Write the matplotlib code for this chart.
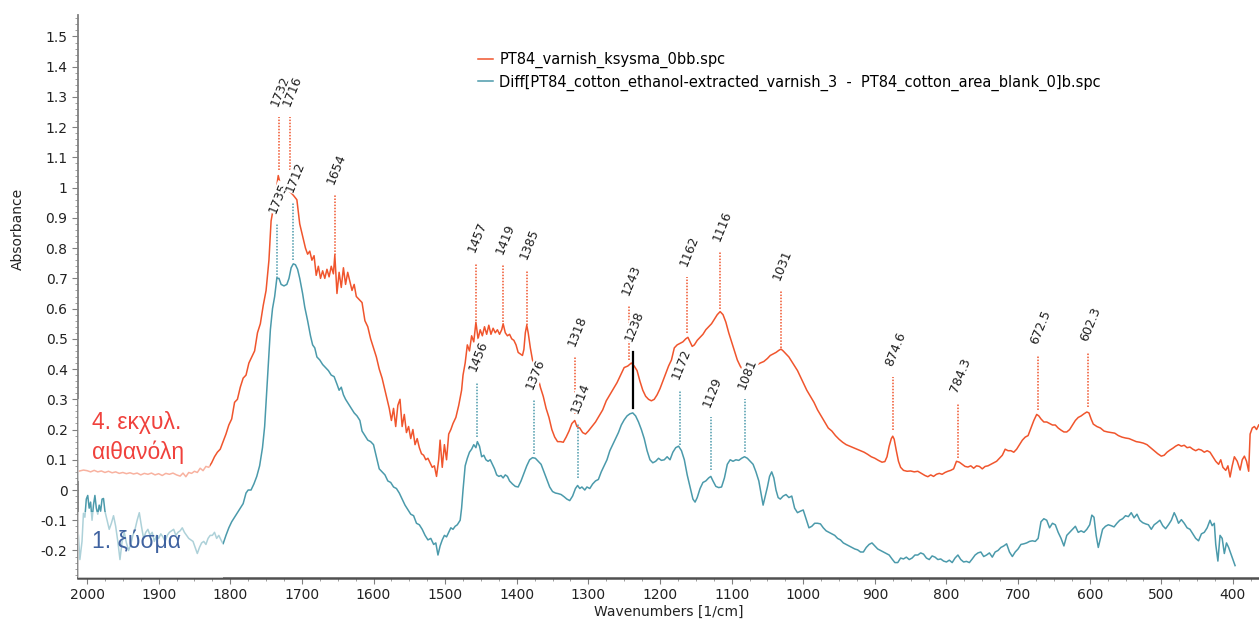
import matplotlib
matplotlib.use('Agg')
import matplotlib.pyplot as plt
from matplotlib.patches import Rectangle
from matplotlib.ticker import MultipleLocator, FuncFormatter

# ---- spectrum 1: PT84_varnish_ksysma_0bb.spc (orange) ----
varnish_wn = [2012, 2005, 2000, 1995, 1990, 1985, 1980, 1975, 1970, 1965, 1960, 1955, 1950, 1945, 1940,
              1935, 1930, 1925, 1920, 1915, 1910, 1905, 1900, 1895, 1890, 1885, 1880, 1875, 1870, 1866,
              1862, 1858, 1854, 1850, 1846, 1842, 1838, 1834, 1830, 1826, 1822, 1818, 1814, 1810, 1806,
              1802, 1798, 1794, 1790, 1786, 1782, 1778, 1774, 1770, 1766, 1762, 1758, 1754, 1750, 1746,
              1743, 1740, 1736, 1733, 1730, 1727, 1724, 1720, 1716, 1712, 1707, 1703, 1699, 1695, 1692,
              1689, 1686, 1683, 1680, 1677, 1674, 1671, 1668, 1665, 1662, 1659, 1656, 1654, 1651, 1648,
              1645, 1642, 1639, 1636, 1633, 1630, 1627, 1624, 1620, 1616, 1612, 1608, 1604, 1600, 1596,
              1592, 1588, 1584, 1581, 1578, 1575, 1572, 1569, 1566, 1563, 1560, 1557, 1554, 1551, 1548,
              1545, 1542, 1539, 1536, 1533, 1530, 1527, 1524, 1521, 1518, 1515, 1512, 1509, 1507, 1504,
              1501, 1498, 1495, 1492, 1489, 1485, 1481, 1477, 1475, 1472, 1469, 1466, 1463, 1460, 1457,
              1454, 1451, 1448, 1445, 1442, 1439, 1436, 1433, 1430, 1427, 1424, 1421, 1419, 1416, 1413,
              1410, 1407, 1404, 1401, 1398, 1395, 1392, 1390, 1388, 1386, 1384, 1381, 1378, 1375, 1371,
              1367, 1363, 1359, 1355, 1351, 1347, 1343, 1339, 1335, 1331, 1327, 1323, 1319, 1316, 1312,
              1308, 1304, 1300, 1295, 1290, 1285, 1280, 1275, 1270, 1265, 1260, 1255, 1250, 1245, 1240,
              1236, 1232, 1228, 1224, 1220, 1216, 1212, 1208, 1204, 1200, 1196, 1192, 1188, 1184, 1180,
              1176, 1172, 1168, 1164, 1161, 1158, 1155, 1152, 1148, 1144, 1140, 1136, 1132, 1128, 1124,
              1120, 1116, 1112, 1108, 1104, 1100, 1096, 1092, 1088, 1084, 1080, 1076, 1072, 1068, 1064,
              1060, 1055, 1050, 1046, 1042, 1038, 1034, 1031, 1028, 1024, 1020, 1016, 1012, 1008, 1004,
              1000, 995, 990, 985, 980, 975, 970, 965, 960, 955, 950, 945, 940, 935, 930,
              925, 920, 915, 910, 905, 900, 895, 890, 886, 883, 880, 877, 875, 873, 870,
              867, 864, 860, 855, 850, 845, 840, 835, 830, 826, 822, 818, 814, 810, 806,
              802, 798, 794, 790, 786, 782, 778, 774, 770, 766, 762, 758, 754, 750, 746,
              742, 738, 734, 730, 726, 722, 718, 714, 710, 706, 702, 698, 694, 690, 686,
              682, 678, 674, 671, 668, 664, 660, 656, 652, 648, 644, 640, 636, 632, 628,
              624, 620, 616, 612, 608, 604, 601, 598, 595, 590, 585, 580, 575, 570, 565,
              560, 555, 550, 545, 540, 535, 530, 525, 520, 515, 510, 505, 500, 496, 492,
              488, 484, 480, 476, 472, 468, 464, 460, 456, 452, 448, 444, 440, 436, 432,
              428, 424, 420, 417, 414, 410, 407, 404, 401, 398, 394, 390, 387, 384, 381,
              378, 376, 373, 370, 367, 364]
varnish_abs = [0.062, 0.066, 0.064, 0.060, 0.065, 0.060, 0.063, 0.058, 0.062, 0.057, 0.060, 0.055, 0.058, 0.054, 0.057,
               0.053, 0.056, 0.050, 0.055, 0.052, 0.056, 0.050, 0.054, 0.048, 0.055, 0.052, 0.056, 0.050, 0.046, 0.056,
               0.044, 0.058, 0.055, 0.062, 0.058, 0.072, 0.064, 0.078, 0.075, 0.090, 0.110, 0.125, 0.135, 0.160, 0.185,
               0.215, 0.235, 0.290, 0.300, 0.340, 0.370, 0.380, 0.420, 0.440, 0.460, 0.520, 0.550, 0.610, 0.660, 0.760,
               0.890, 0.930, 0.990, 1.040, 1.010, 0.990, 1.000, 0.990, 0.985, 0.975, 0.960, 0.880, 0.840, 0.800, 0.780,
               0.790, 0.760, 0.775, 0.710, 0.740, 0.700, 0.725, 0.700, 0.730, 0.705, 0.740, 0.715, 0.777, 0.650, 0.720,
               0.670, 0.735, 0.680, 0.720, 0.690, 0.660, 0.680, 0.640, 0.630, 0.620, 0.560, 0.540, 0.500, 0.470, 0.440,
               0.400, 0.370, 0.330, 0.300, 0.270, 0.230, 0.270, 0.210, 0.280, 0.300, 0.210, 0.250, 0.190, 0.210, 0.170,
               0.200, 0.150, 0.170, 0.140, 0.120, 0.115, 0.100, 0.105, 0.090, 0.075, 0.080, 0.045, 0.100, 0.165, 0.075,
               0.150, 0.100, 0.185, 0.200, 0.220, 0.240, 0.280, 0.330, 0.380, 0.420, 0.480, 0.460, 0.510, 0.490, 0.555,
               0.500, 0.530, 0.510, 0.540, 0.515, 0.545, 0.515, 0.535, 0.520, 0.530, 0.515, 0.530, 0.550, 0.520, 0.510,
               0.515, 0.500, 0.495, 0.480, 0.455, 0.450, 0.445, 0.465, 0.520, 0.545, 0.520, 0.470, 0.430, 0.415, 0.380,
               0.340, 0.310, 0.270, 0.240, 0.200, 0.175, 0.160, 0.160, 0.158, 0.175, 0.195, 0.220, 0.230, 0.210, 0.205,
               0.190, 0.185, 0.195, 0.210, 0.225, 0.245, 0.265, 0.295, 0.315, 0.335, 0.355, 0.380, 0.405, 0.410, 0.420,
               0.410, 0.395, 0.360, 0.330, 0.310, 0.300, 0.295, 0.300, 0.315, 0.335, 0.360, 0.385, 0.410, 0.430, 0.470,
               0.480, 0.485, 0.490, 0.500, 0.505, 0.490, 0.475, 0.480, 0.495, 0.505, 0.515, 0.530, 0.540, 0.550, 0.565,
               0.580, 0.590, 0.580, 0.555, 0.520, 0.490, 0.460, 0.430, 0.410, 0.395, 0.390, 0.395, 0.400, 0.410, 0.415,
               0.420, 0.425, 0.435, 0.445, 0.450, 0.455, 0.462, 0.466, 0.460, 0.450, 0.440, 0.425, 0.410, 0.395, 0.375,
               0.355, 0.330, 0.310, 0.290, 0.265, 0.245, 0.225, 0.205, 0.195, 0.180, 0.168, 0.158, 0.150, 0.145, 0.140,
               0.135, 0.130, 0.125, 0.118, 0.110, 0.105, 0.098, 0.092, 0.094, 0.110, 0.145, 0.170, 0.178, 0.168, 0.130,
               0.095, 0.075, 0.065, 0.062, 0.063, 0.060, 0.062, 0.055, 0.048, 0.044, 0.050, 0.045, 0.052, 0.055, 0.052,
               0.058, 0.062, 0.065, 0.070, 0.095, 0.092, 0.085, 0.078, 0.076, 0.080, 0.072, 0.080, 0.078, 0.070, 0.078,
               0.080, 0.085, 0.090, 0.095, 0.105, 0.115, 0.135, 0.130, 0.130, 0.125, 0.135, 0.150, 0.165, 0.175, 0.180,
               0.205, 0.230, 0.250, 0.245, 0.235, 0.225, 0.225, 0.220, 0.215, 0.215, 0.205, 0.198, 0.192, 0.192, 0.200,
               0.215, 0.230, 0.240, 0.245, 0.252, 0.258, 0.255, 0.235, 0.218, 0.210, 0.205, 0.195, 0.192, 0.190, 0.188,
               0.180, 0.175, 0.172, 0.170, 0.165, 0.160, 0.158, 0.155, 0.150, 0.140, 0.130, 0.120, 0.112, 0.115, 0.125,
               0.132, 0.138, 0.145, 0.150, 0.145, 0.148, 0.140, 0.142, 0.135, 0.130, 0.135, 0.132, 0.125, 0.130, 0.125,
               0.110, 0.095, 0.085, 0.100, 0.075, 0.065, 0.080, 0.043, 0.080, 0.110, 0.095, 0.066, 0.100, 0.112, 0.095,
               0.062, 0.185, 0.205, 0.210, 0.200, 0.215]

# ---- spectrum 2: difference spectrum (blue) ----
diff_wn = [2012, 2010, 2007, 2005, 2003, 2001, 1999, 1997, 1995, 1993, 1991, 1989, 1987, 1985, 1983,
           1981, 1979, 1977, 1975, 1972, 1969, 1966, 1963, 1960, 1957, 1954, 1951, 1948, 1945, 1942,
           1939, 1936, 1933, 1930, 1927, 1924, 1921, 1918, 1915, 1912, 1909, 1906, 1903, 1900, 1897,
           1894, 1891, 1888, 1885, 1882, 1879, 1876, 1873, 1870, 1867, 1864, 1861, 1858, 1855, 1852,
           1849, 1846, 1843, 1840, 1837, 1834, 1831, 1828, 1825, 1822, 1819, 1816, 1813, 1810, 1806,
           1802, 1798, 1794, 1790, 1786, 1782, 1778, 1775, 1771, 1767, 1763, 1759, 1755, 1752, 1749,
           1746, 1744, 1741, 1738, 1735, 1732, 1729, 1725, 1721, 1718, 1715, 1712, 1709, 1706, 1703,
           1699, 1696, 1692, 1688, 1685, 1682, 1679, 1675, 1671, 1667, 1663, 1659, 1655, 1651, 1648,
           1645, 1642, 1639, 1635, 1631, 1627, 1623, 1619, 1616, 1612, 1608, 1604, 1600, 1596, 1592,
           1588, 1584, 1580, 1576, 1572, 1568, 1564, 1560, 1556, 1552, 1548, 1544, 1540, 1536, 1532,
           1528, 1524, 1520, 1516, 1513, 1510, 1507, 1504, 1501, 1498, 1495, 1492, 1489, 1486, 1483,
           1479, 1477, 1475, 1472, 1469, 1466, 1463, 1460, 1457, 1455, 1452, 1449, 1446, 1443, 1440,
           1437, 1434, 1431, 1428, 1425, 1422, 1419, 1416, 1413, 1410, 1406, 1402, 1398, 1394, 1390,
           1386, 1382, 1378, 1374, 1370, 1366, 1362, 1358, 1354, 1350, 1346, 1342, 1338, 1334, 1330,
           1326, 1322, 1318, 1315, 1312, 1309, 1305, 1302, 1298, 1294, 1290, 1286, 1282, 1278, 1274,
           1270, 1266, 1262, 1258, 1254, 1250, 1246, 1242, 1238, 1234, 1230, 1226, 1222, 1218, 1214,
           1210, 1206, 1202, 1198, 1194, 1190, 1186, 1182, 1178, 1174, 1170, 1166, 1162, 1158, 1154,
           1151, 1148, 1144, 1140, 1136, 1132, 1129, 1126, 1122, 1118, 1114, 1110, 1106, 1102, 1098,
           1094, 1090, 1086, 1082, 1078, 1074, 1070, 1066, 1062, 1059, 1056, 1053, 1050, 1047, 1044,
           1041, 1038, 1035, 1032, 1028, 1024, 1020, 1016, 1012, 1008, 1004, 1000, 996, 992, 988,
           984, 980, 976, 972, 968, 964, 960, 956, 952, 948, 944, 940, 936, 932, 928,
           924, 920, 916, 912, 908, 904, 900, 896, 892, 888, 884, 880, 876, 872, 868,
           864, 860, 856, 852, 848, 844, 840, 836, 832, 828, 824, 820, 816, 812, 808,
           804, 800, 796, 792, 788, 784, 780, 776, 772, 768, 764, 760, 756, 752, 748,
           744, 740, 736, 732, 728, 724, 720, 716, 712, 708, 704, 700, 696, 692, 688,
           684, 680, 676, 672, 668, 664, 660, 656, 652, 648, 644, 640, 636, 632, 628,
           624, 620, 616, 612, 608, 604, 600, 597, 594, 591, 588, 585, 582, 578, 574,
           570, 566, 562, 558, 554, 550, 546, 542, 538, 534, 530, 526, 522, 518, 514,
           510, 506, 502, 498, 494, 490, 486, 482, 479, 476, 472, 468, 464, 460, 456,
           452, 448, 444, 440, 436, 432, 429, 426, 424, 421, 418, 415, 412, 409, 406,
           403, 400, 397]
diff_abs = [-0.150, -0.230, -0.170, -0.077, -0.090, -0.030, -0.018, -0.060, -0.040, -0.100, -0.050, -0.018, -0.060, -0.080, -0.050,
            -0.070, -0.030, -0.028, -0.070, -0.100, -0.130, -0.110, -0.085, -0.120, -0.170, -0.230, -0.170, -0.140, -0.175, -0.200,
            -0.180, -0.150, -0.130, -0.100, -0.075, -0.120, -0.160, -0.140, -0.130, -0.150, -0.140, -0.170, -0.150, -0.160, -0.145,
            -0.155, -0.170, -0.150, -0.140, -0.135, -0.130, -0.150, -0.140, -0.135, -0.125, -0.140, -0.150, -0.160, -0.165, -0.170,
            -0.190, -0.210, -0.190, -0.175, -0.170, -0.180, -0.160, -0.150, -0.150, -0.140, -0.160, -0.150, -0.165, -0.178, -0.150,
            -0.125, -0.105, -0.090, -0.075, -0.060, -0.045, -0.010, 0.000, 0.000, 0.020, 0.045, 0.080, 0.140, 0.210, 0.330,
            0.450, 0.530, 0.600, 0.640, 0.700, 0.700, 0.680, 0.675, 0.680, 0.700, 0.735, 0.748, 0.745, 0.730, 0.700,
            0.650, 0.605, 0.560, 0.510, 0.480, 0.470, 0.440, 0.430, 0.415, 0.405, 0.395, 0.380, 0.375, 0.350, 0.330,
            0.340, 0.315, 0.300, 0.285, 0.270, 0.255, 0.245, 0.230, 0.195, 0.180, 0.165, 0.160, 0.150, 0.110, 0.070,
            0.060, 0.050, 0.030, 0.025, 0.010, 0.005, -0.010, -0.030, -0.050, -0.065, -0.080, -0.085, -0.110, -0.115, -0.130,
            -0.150, -0.165, -0.160, -0.180, -0.175, -0.215, -0.185, -0.165, -0.150, -0.155, -0.140, -0.125, -0.130, -0.120, -0.115,
            -0.100, -0.060, 0.000, 0.080, 0.105, 0.125, 0.135, 0.150, 0.140, 0.160, 0.145, 0.110, 0.115, 0.100, 0.095,
            0.100, 0.085, 0.070, 0.050, 0.045, 0.048, 0.040, 0.050, 0.045, 0.030, 0.020, 0.012, 0.010, 0.030, 0.055,
            0.080, 0.100, 0.107, 0.105, 0.095, 0.085, 0.060, 0.035, 0.010, -0.005, -0.010, -0.012, -0.015, -0.022, -0.030,
            -0.035, -0.020, 0.005, 0.015, 0.005, 0.010, 0.000, 0.010, 0.005, 0.020, 0.030, 0.035, 0.060, 0.080, 0.100,
            0.130, 0.150, 0.170, 0.190, 0.215, 0.232, 0.245, 0.252, 0.255, 0.245, 0.225, 0.200, 0.170, 0.130, 0.100,
            0.090, 0.095, 0.105, 0.098, 0.100, 0.110, 0.100, 0.125, 0.140, 0.145, 0.130, 0.100, 0.050, 0.010, -0.030,
            -0.040, -0.025, 0.005, 0.025, 0.030, 0.040, 0.045, 0.030, 0.012, 0.008, 0.010, 0.040, 0.085, 0.100, 0.095,
            0.100, 0.098, 0.105, 0.110, 0.105, 0.095, 0.085, 0.060, 0.030, -0.010, -0.050, -0.020, 0.010, 0.045, 0.060,
            0.040, 0.000, -0.025, -0.030, -0.020, -0.015, -0.025, -0.020, -0.060, -0.075, -0.070, -0.066, -0.095, -0.125, -0.120,
            -0.110, -0.110, -0.112, -0.125, -0.135, -0.140, -0.145, -0.150, -0.160, -0.165, -0.175, -0.180, -0.185, -0.190, -0.195,
            -0.198, -0.205, -0.205, -0.190, -0.180, -0.175, -0.185, -0.195, -0.200, -0.205, -0.210, -0.215, -0.228, -0.240, -0.240,
            -0.225, -0.228, -0.222, -0.230, -0.225, -0.215, -0.215, -0.208, -0.212, -0.225, -0.230, -0.218, -0.222, -0.230, -0.228,
            -0.235, -0.238, -0.232, -0.240, -0.225, -0.215, -0.230, -0.238, -0.236, -0.240, -0.228, -0.215, -0.208, -0.205, -0.220,
            -0.215, -0.208, -0.222, -0.205, -0.200, -0.190, -0.185, -0.178, -0.205, -0.220, -0.205, -0.195, -0.180, -0.178, -0.175,
            -0.170, -0.168, -0.170, -0.160, -0.105, -0.095, -0.100, -0.125, -0.110, -0.115, -0.140, -0.160, -0.185, -0.150, -0.140,
            -0.130, -0.120, -0.140, -0.135, -0.140, -0.130, -0.115, -0.083, -0.090, -0.150, -0.190, -0.160, -0.130, -0.120, -0.115,
            -0.118, -0.122, -0.110, -0.100, -0.095, -0.085, -0.088, -0.075, -0.092, -0.080, -0.100, -0.108, -0.112, -0.115, -0.130,
            -0.115, -0.108, -0.100, -0.118, -0.128, -0.115, -0.100, -0.075, -0.090, -0.110, -0.098, -0.110, -0.125, -0.130, -0.145,
            -0.160, -0.168, -0.145, -0.140, -0.125, -0.100, -0.118, -0.110, -0.180, -0.235, -0.150, -0.160, -0.210, -0.175, -0.190,
            -0.210, -0.230, -0.250]

# ---- peak picks: position, top and bottom of the marker line ----
varnish_peaks = [1732, 1716, 1654, 1457, 1419, 1385, 1318, 1243, 1162, 1116, 1031, 874.6, 784.3, 672.5, 602.3]
varnish_tops = [1.234, 1.234, 0.975, 0.75, 0.744, 0.728, 0.44, 0.61, 0.705, 0.787, 0.66, 0.374, 0.288, 0.447, 0.457]
varnish_bots = [1.058, 1.058, 0.777, 0.56, 0.555, 0.546, 0.25, 0.43, 0.52, 0.60, 0.47, 0.198, 0.106, 0.265, 0.275]

diff_peaks = [1735, 1712, 1456, 1376, 1314, 1238, 1172, 1129, 1081]
diff_tops = [0.88, 0.95, 0.357, 0.30, 0.22, 0.456, 0.33, 0.24, 0.30]
diff_bots = [0.70, 0.76, 0.175, 0.12, 0.04, 0.27, 0.15, 0.066, 0.125]
selected_peak = 1238

ORANGE = '#f0552d'
BLUE = '#4b9aab'

varnish_name = 'PT84_varnish_ksysma_0bb.spc'
diff_name = 'Diff[PT84_cotton_ethanol-extracted_varnish_3  -  PT84_cotton_area_blank_0]b.spc'


def mark_peaks(ax, peaks, tops, bots, color):
    for wn, top, bot in zip(peaks, tops, bots):
        if wn == selected_peak and color == BLUE:
            ax.plot([wn, wn], [bot, top], color='black', lw=1.6, zorder=6)
        else:
            ax.plot([wn, wn], [bot, top], color=color, lw=1.1, ls=(0, (1, 1)), zorder=2.5)
        ax.annotate('%g' % wn, xy=(wn, top), xytext=(-3, 8), textcoords='offset points',
                    rotation=68, rotation_mode='anchor', ha='left', va='center',
                    fontsize=9, color='#1e1e1e', zorder=5,
                    bbox=dict(boxstyle='square,pad=0.05', fc='white', ec='none'))


def fmt_y(v, pos):
    s = '%g' % round(v, 2)
    return '0' if s == '-0' else s


fig = plt.figure(figsize=(12.59, 6.22), dpi=100)
ax = fig.add_axes([78 / 1259, 44 / 622, 1181 / 1259, 563 / 622])

ax.plot(varnish_wn, varnish_abs, color=ORANGE, lw=1.1, label=varnish_name, zorder=2)
ax.plot(diff_wn, diff_abs, color=BLUE, lw=1.1, label=diff_name, zorder=2)

mark_peaks(ax, varnish_peaks, varnish_tops, varnish_bots, ORANGE)
mark_peaks(ax, diff_peaks, diff_tops, diff_bots, BLUE)

# semi transparent boxes behind the sample names
ax.add_patch(Rectangle((2013, 0.03), 1828 - 2013, 0.27, fc='white', ec='none', alpha=0.55, zorder=3))
ax.add_patch(Rectangle((2013, -0.3), 1810 - 2013, 0.228, fc='white', ec='none', alpha=0.55, zorder=3))
ax.text(1993, 0.222, '4. εκχυλ.', color='#f0413c', fontsize=16.5, family='Liberation Sans', va='center', zorder=4)
ax.text(1993, 0.126, 'αιθανόλη', color='#f0413c', fontsize=16.5, family='Liberation Sans', va='center', zorder=4)
ax.text(1993, -0.169, '1. ξύσμα', color='#3f62a0', fontsize=16.5, family='Liberation Sans', va='center', zorder=4)

ax.set_xlim(2012.6, 363.6)
ax.set_ylim(-0.291, 1.571)
ax.xaxis.set_major_locator(MultipleLocator(100))
ax.xaxis.set_minor_locator(MultipleLocator(25))
ax.yaxis.set_major_locator(MultipleLocator(0.1))
ax.yaxis.set_minor_locator(MultipleLocator(0.02))
ax.xaxis.set_major_formatter(FuncFormatter(lambda v, p: '%d' % v))
ax.yaxis.set_major_formatter(FuncFormatter(fmt_y))

for side in ['top', 'right']:
    ax.spines[side].set_visible(False)
ax.spines['left'].set_color('#808080')
ax.spines['left'].set_linewidth(1.3)
ax.spines['bottom'].set_color('#505050')
ax.spines['bottom'].set_linewidth(1.8)
ax.tick_params(which='major', length=4, color='#808080', labelsize=10, labelcolor='#222222')
ax.tick_params(which='minor', length=2.5, color='#909090')

ax.set_xlabel('Wavenumbers [1/cm]', fontsize=10, color='#222222', labelpad=2)
ax.set_ylabel('Absorbance', fontsize=10, color='#222222')
ax.yaxis.set_label_coords(-0.045, 0.62)

ax.legend(loc='upper left', bbox_to_anchor=(478 / 1259, 1 - 52 / 622), bbox_transform=fig.transFigure,
          frameon=False, fontsize=10.5, handlelength=1.0, handletextpad=0.45, labelspacing=0.42,
          borderpad=0, borderaxespad=0)

fig.savefig('out.png', dpi=100)
